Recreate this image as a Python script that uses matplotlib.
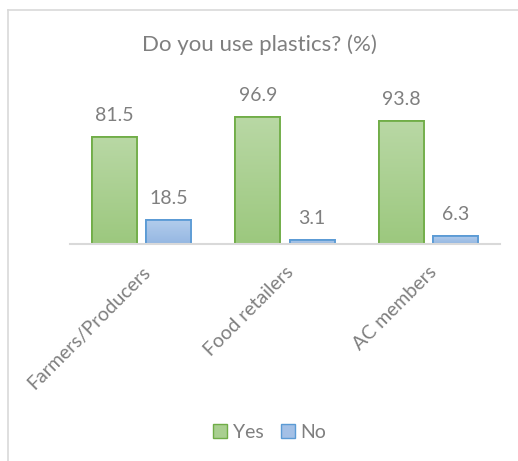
import numpy as np
import matplotlib
matplotlib.use("Agg")
import matplotlib.pyplot as plt
from matplotlib.colors import LinearSegmentedColormap
from matplotlib.patches import Patch
from matplotlib.lines import Line2D

categories = ["Farmers/Producers", "Food retailers", "AC members"]
yes_values = [81.5, 96.9, 93.8]
no_values = [18.5, 3.1, 6.3]
series_names = ["Yes", "No"]
title = "Do you use plastics? (%)"

plt.rcParams['font.family'] = ['Lato', 'DejaVu Sans']
txt = "#7f7f7f"

W, H = 518, 461
fig = plt.figure(figsize=(W/100, H/100), dpi=100)
ax = fig.add_axes([70/W, (H-244)/H, 430/W, 131.5/H])

x = np.arange(len(categories))
bw = 0.314
off = 0.19

green_cmap = LinearSegmentedColormap.from_list("g", ["#b9d8a5", "#9cc87e"])
blue_cmap = LinearSegmentedColormap.from_list("b", ["#b3cdec", "#95b7e2"])

def draw(vals, pos, cmap, edge, face):
    bars = ax.bar(pos, vals, width=bw, color=face, edgecolor=edge, linewidth=1.3, zorder=2)
    grad = np.linspace(0, 1, 256).reshape(-1, 1)
    for b in bars:
        x0, y0 = b.get_x(), b.get_y()
        im = ax.imshow(grad, cmap=cmap, aspect='auto',
                       extent=[x0, x0 + b.get_width(), y0, y0 + b.get_height()],
                       origin='upper', zorder=2.1)
        im.set_clip_path(b)
        ax.bar(b.get_x() + b.get_width()/2, b.get_height(), width=bw, fill=False,
               edgecolor=edge, linewidth=1.3, zorder=2.2)
    for p, v in zip(pos, vals):
        ax.annotate(f"{v}", (p, v), xytext=(0, 9), textcoords='offset points',
                    ha='center', va='bottom', fontsize=14, color=txt, annotation_clip=False)

draw(yes_values, x - off, green_cmap, "#70ad47", "#a9cf90")
draw(no_values, x + off, blue_cmap, "#5b9bd5", "#a3c0e6")

ax.set_xlim(-0.5, 2.5)
ax.set_ylim(0, 100)
for s in ["top", "right", "left"]:
    ax.spines[s].set_visible(False)
ax.spines["bottom"].set_color("#d9d9d9")
ax.spines["bottom"].set_linewidth(1.5)
ax.set_yticks([])
ax.set_xticks(x)
ax.set_xticklabels(categories, rotation=45, ha='right', rotation_mode='anchor',
                   fontsize=14, color=txt)
ax.tick_params(axis='x', length=0, pad=14)

fig.text(0.5, 1 - 45/H, title, ha='center', va='center', fontsize=16, color=txt)

handles = [Patch(facecolor="#a9cf90", edgecolor="#70ad47", label=series_names[0]),
           Patch(facecolor="#a3c0e6", edgecolor="#5b9bd5", label=series_names[1])]
fig.legend(handles=handles, loc='center', bbox_to_anchor=(270/W, 1 - 432/H), ncol=2,
           frameon=False, fontsize=14, labelcolor=txt, handlelength=0.7, handleheight=0.7,
           handletextpad=0.3, columnspacing=0.9)

fig.add_artist(Line2D([8/W, 8/W], [0, 1 - 10/H], color="#d9d9d9", lw=1.2, transform=fig.transFigure))
fig.add_artist(Line2D([8/W, 1], [1 - 10/H, 1 - 10/H], color="#d9d9d9", lw=1.2, transform=fig.transFigure))

fig.savefig("out.png", dpi=100)
